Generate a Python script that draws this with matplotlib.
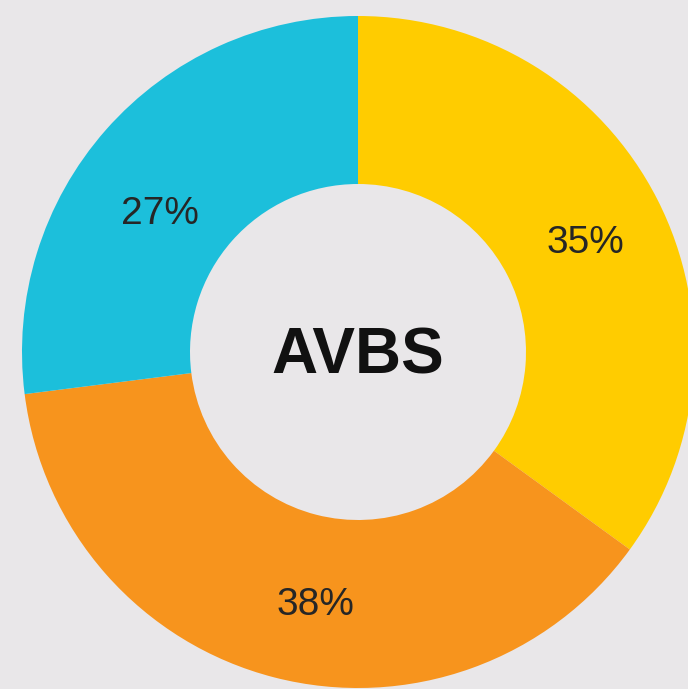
import matplotlib
matplotlib.use("Agg")
from matplotlib import pyplot as plt

# segments, clockwise from 12 o'clock
labels = ["35%", "38%", "27%"]
shares = [35, 38, 27]
colors = ["#ffcc00", "#f7941d", "#1cbfdb"]
center_text = "AVBS"

bg = "#e9e7e9"
text_color = "#262626"

fig = plt.figure(figsize=(6.88, 6.89), dpi=100)
fig.patch.set_facecolor(bg)
ax = fig.add_axes([22 / 688, 1 / 689, 672 / 688, 672 / 689])
ax.set_facecolor(bg)

ax.pie(shares, colors=colors, startangle=90, counterclock=False,
       radius=1.0, wedgeprops=dict(width=0.5, linewidth=0))
ax.set_xlim(-1, 1)
ax.set_ylim(-1, 1)
ax.set_aspect("equal")
ax.axis("off")

# label placement (axes data units)
label_pos = [(0.676, 0.324), (-0.128, -0.752), (-0.589, 0.41)]
for lab, (x, y) in zip(labels, label_pos):
    ax.text(x, y, lab, ha="center", va="center", fontsize=28,
            color=text_color, family="Liberation Sans")

ax.text(0, -0.012, center_text, ha="center", va="center", fontsize=46,
        fontweight="bold", color="#111111", family="Liberation Sans")

plt.savefig("out.png", dpi=100, facecolor=bg)
